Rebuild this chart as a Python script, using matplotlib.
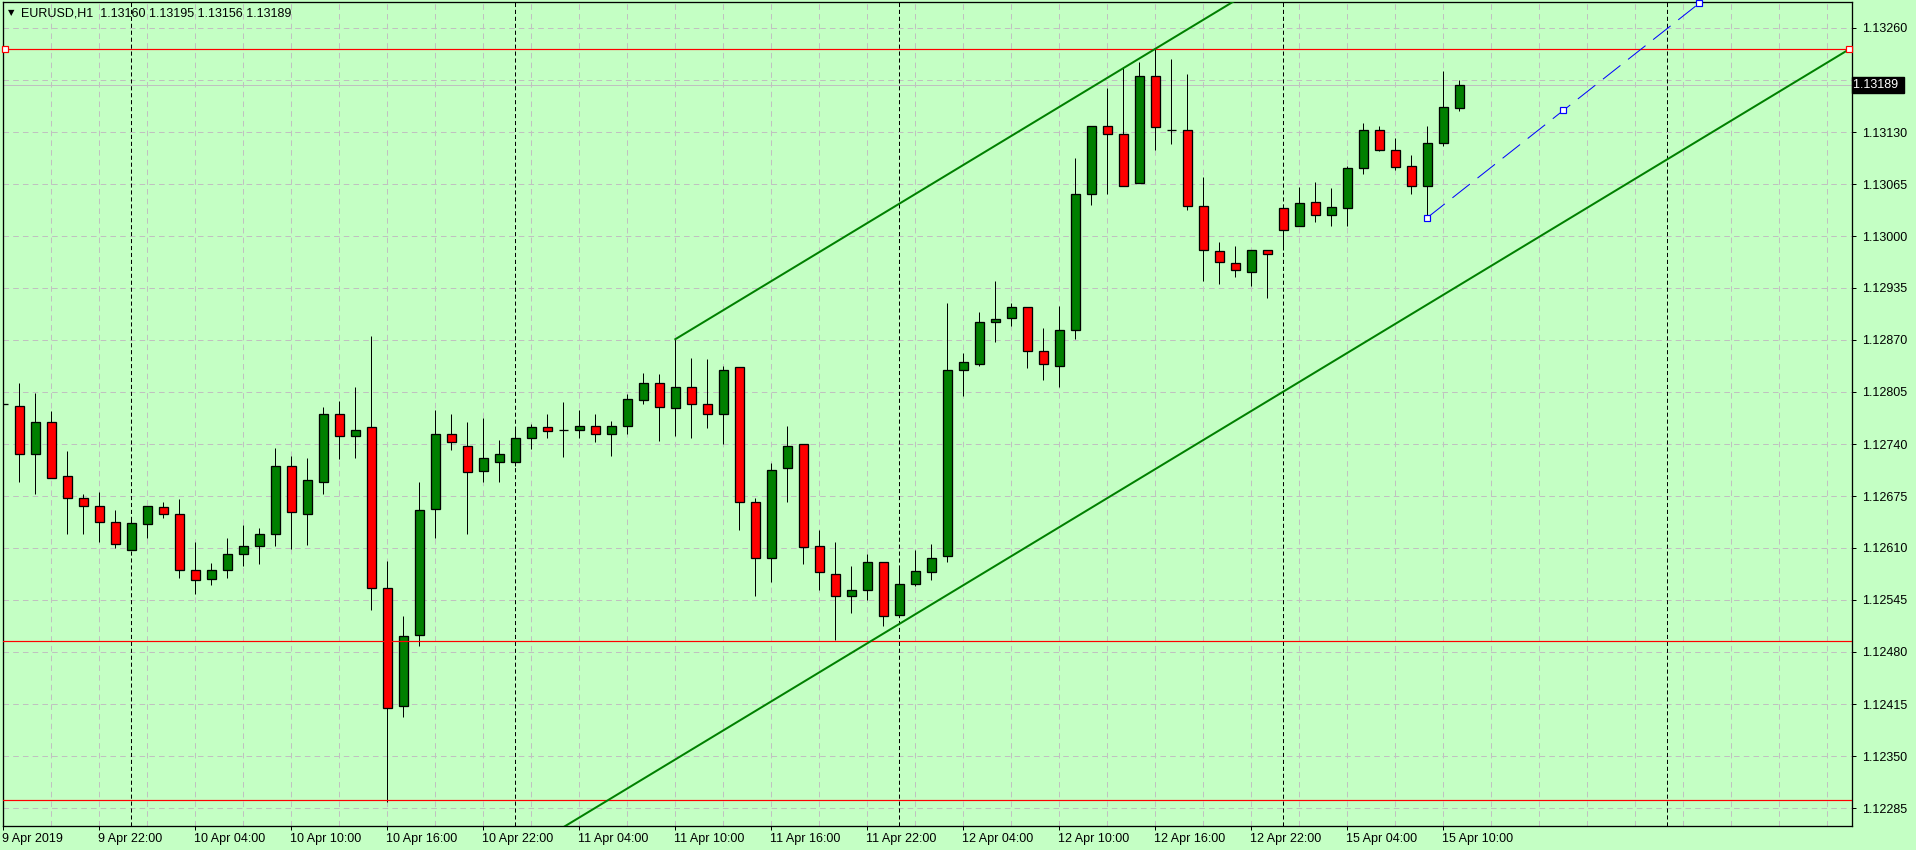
import matplotlib
matplotlib.use("Agg")
import matplotlib.pyplot as plt
import matplotlib.transforms as mtransforms
import numpy as np

# EURUSD H1 bars, index 0 = 9 Apr 16:00
opens = [1.12790, 1.12788, 1.12727, 1.12768, 1.12700, 1.12673, 1.12663, 1.12642, 1.12608, 1.12640,
         1.12661, 1.12653, 1.12582, 1.12571, 1.12583, 1.12603, 1.12612, 1.12628, 1.12713, 1.12653,
         1.12693, 1.12777, 1.12750, 1.12761, 1.12560, 1.12412, 1.12501, 1.12659, 1.12752, 1.12738,
         1.12706, 1.12718, 1.12718, 1.12747, 1.12761, 1.12757, 1.12758, 1.12763, 1.12753, 1.12763,
         1.12795, 1.12816, 1.12785, 1.12811, 1.12790, 1.12777, 1.12836, 1.12668, 1.12598, 1.12710,
         1.12740, 1.12613, 1.12578, 1.12550, 1.12557, 1.12593, 1.12526, 1.12565, 1.12580, 1.12600,
         1.12832, 1.12840, 1.12892, 1.12897, 1.12911, 1.12856, 1.12838, 1.12883, 1.13052, 1.13137,
         1.13127, 1.13066, 1.13200, 1.13133, 1.13132, 1.13037, 1.12981, 1.12966, 1.12955, 1.12983,
         1.13035, 1.13012, 1.13042, 1.13026, 1.13035, 1.13085, 1.13132, 1.13108, 1.13087, 1.13063,
         1.13116, 1.13160]
highs = [1.12841, 1.12816, 1.12804, 1.12781, 1.12731, 1.12677, 1.12680, 1.12658, 1.12647, 1.12663,
         1.12668, 1.12671, 1.12617, 1.12591, 1.12623, 1.12639, 1.12635, 1.12735, 1.12725, 1.12723,
         1.12786, 1.12794, 1.12811, 1.12875, 1.12594, 1.12525, 1.12693, 1.12783, 1.12777, 1.12768,
         1.12773, 1.12745, 1.12760, 1.12765, 1.12777, 1.12793, 1.12783, 1.12777, 1.12769, 1.12803,
         1.12829, 1.12827, 1.12871, 1.12847, 1.12846, 1.12837, 1.12836, 1.12673, 1.12716, 1.12762,
         1.12740, 1.12633, 1.12618, 1.12588, 1.12603, 1.12593, 1.12587, 1.12607, 1.12615, 1.12916,
         1.12854, 1.12905, 1.12944, 1.12916, 1.12911, 1.12885, 1.12913, 1.13098, 1.13138, 1.13185,
         1.13211, 1.13218, 1.13234, 1.13221, 1.13203, 1.13074, 1.12992, 1.12988, 1.12983, 1.12983,
         1.13037, 1.13061, 1.13068, 1.13060, 1.13087, 1.13141, 1.13138, 1.13123, 1.13101, 1.13137,
         1.13206, 1.13195]
lows = [1.12758, 1.12692, 1.12677, 1.12697, 1.12628, 1.12628, 1.12618, 1.12610, 1.12607, 1.12623,
        1.12648, 1.12572, 1.12553, 1.12564, 1.12573, 1.12588, 1.12590, 1.12613, 1.12609, 1.12614,
        1.12677, 1.12721, 1.12723, 1.12532, 1.12293, 1.12399, 1.12488, 1.12622, 1.12733, 1.12627,
        1.12693, 1.12692, 1.12712, 1.12734, 1.12747, 1.12724, 1.12748, 1.12743, 1.12725, 1.12753,
        1.12790, 1.12744, 1.12750, 1.12747, 1.12760, 1.12740, 1.12633, 1.12550, 1.12568, 1.12667,
        1.12590, 1.12558, 1.12495, 1.12529, 1.12545, 1.12513, 1.12525, 1.12562, 1.12570, 1.12592,
        1.12800, 1.12838, 1.12867, 1.12887, 1.12835, 1.12820, 1.12811, 1.12871, 1.13039, 1.13053,
        1.13063, 1.13066, 1.13108, 1.13115, 1.13033, 1.12944, 1.12940, 1.12949, 1.12938, 1.12923,
        1.12982, 1.13012, 1.13018, 1.13013, 1.13013, 1.13078, 1.13106, 1.13083, 1.13053, 1.13023,
        1.13112, 1.13156]
closes = [1.12790, 1.12727, 1.12768, 1.12698, 1.12673, 1.12662, 1.12642, 1.12615, 1.12641, 1.12662,
          1.12652, 1.12583, 1.12570, 1.12583, 1.12603, 1.12612, 1.12628, 1.12713, 1.12655, 1.12695,
          1.12777, 1.12750, 1.12758, 1.12560, 1.12410, 1.12500, 1.12658, 1.12752, 1.12742, 1.12705,
          1.12722, 1.12728, 1.12747, 1.12761, 1.12756, 1.12757, 1.12762, 1.12753, 1.12763, 1.12796,
          1.12816, 1.12786, 1.12811, 1.12790, 1.12777, 1.12833, 1.12667, 1.12597, 1.12708, 1.12738,
          1.12611, 1.12580, 1.12550, 1.12558, 1.12593, 1.12525, 1.12565, 1.12581, 1.12598, 1.12833,
          1.12842, 1.12893, 1.12896, 1.12911, 1.12856, 1.12840, 1.12883, 1.13052, 1.13137, 1.13128,
          1.13063, 1.13200, 1.13136, 1.13133, 1.13038, 1.12982, 1.12967, 1.12958, 1.12983, 1.12977,
          1.13008, 1.13041, 1.13026, 1.13036, 1.13085, 1.13133, 1.13107, 1.13086, 1.13063, 1.13116,
          1.13161, 1.13189]

tick_pos = [0, 6, 12, 18, 24, 30, 36, 42, 48, 54, 60, 66, 72, 78, 84, 90]
tick_labels = ["9 Apr 2019", "9 Apr 22:00", "10 Apr 04:00", "10 Apr 10:00", "10 Apr 16:00",
               "10 Apr 22:00", "11 Apr 04:00", "11 Apr 10:00", "11 Apr 16:00", "11 Apr 22:00",
               "12 Apr 04:00", "12 Apr 10:00", "12 Apr 16:00", "12 Apr 22:00", "15 Apr 04:00",
               "15 Apr 10:00"]
price_ticks = [1.12285, 1.12350, 1.12415, 1.12480, 1.12545, 1.12610, 1.12675, 1.12740,
               1.12805, 1.12870, 1.12935, 1.13000, 1.13065, 1.13130, 1.13195, 1.13260]
day_breaks = [8, 32, 56, 80, 104]
hlines_red = [1.13234, 1.12494, 1.12295]
channel_x = [42, 72]
channel_y = [1.12871, 1.13234]
channel_low_point = (55, 1.12503)
trend_x = [89, 106]
trend_y = [1.13023, 1.13291]
bid = 1.13189

bg = "#C4FFC4"
PX = 72 / 100  # one pixel in points

plt.rcParams["font.family"] = ["Liberation Sans", "DejaVu Sans"]
fig = plt.figure(figsize=(19.16, 8.5), dpi=100, facecolor=bg)
ax = fig.add_axes([2.5 / 1916, 24 / 850, 1849.5 / 1916, 824 / 850], facecolor=bg)

x = np.arange(len(opens))
o, h, l, c = map(np.array, (opens, highs, lows, closes))
up = c >= o

# grid
for p in price_ticks:
    ax.axhline(p, color="#C0C0C0", lw=PX, dashes=(4 / 0.72, 3 / 0.72), zorder=0)
for g in range(3, 116, 3):
    ax.axvline(g, color="#C0C0C0", lw=PX, dashes=(4 / 0.72, 3 / 0.72), zorder=0)
for d in day_breaks:
    ax.axvline(d, color="black", lw=PX, dashes=(3 / 0.72, 2 / 0.72), zorder=1)

# bid line
ax.axhline(bid, color="#C0C0C0", lw=PX, zorder=1)

# candles
ax.vlines(x, l, h, color="black", lw=PX, zorder=2)
ax.bar(x[up], (c - o)[up], bottom=o[up], width=0.58, color="#008000",
       edgecolor="black", linewidth=PX * 1.3, zorder=3)
ax.bar(x[~up], (o - c)[~up], bottom=c[~up], width=0.58, color="#FF0000",
       edgecolor="black", linewidth=PX * 1.3, zorder=3)

# horizontal red lines
for p in hlines_red:
    ax.axhline(p, color="#FF0000", lw=PX * 1.2, zorder=4)
ax.plot([0.13, 115.35], [hlines_red[0]] * 2, ls="none", marker="s", ms=4.5,
        mfc="white", mec="#FF0000", mew=PX * 1.2, zorder=6, clip_on=False)

# equidistant channel
slope = (channel_y[1] - channel_y[0]) / (channel_x[1] - channel_x[0])
xu = np.array([channel_x[0], 130])
ax.plot(xu, channel_y[0] + slope * (xu - channel_x[0]), color="#008000", lw=2 * PX, zorder=5)
xl = np.array([25, 115.45])
ax.plot(xl, channel_low_point[1] + slope * (xl - channel_low_point[0]), color="#008000",
        lw=2 * PX, zorder=5)

# blue trendline
ax.plot(trend_x, trend_y, color="#0000FF", lw=PX, dashes=(16 / 0.72, 7 / 0.72), zorder=5)
ax.plot([trend_x[0], sum(trend_x) / 2, trend_x[1]],
        [trend_y[0], sum(trend_y) / 2, trend_y[1]], ls="none", marker="s", ms=4.5,
        mfc="white", mec="#0000FF", mew=PX * 1.2, zorder=6, clip_on=False)

ax.set_xlim(-0.05, 115.54)
ax.set_ylim(1.122625, 1.132925)

ax.yaxis.tick_right()
ax.set_yticks(price_ticks)
# 1.13195 sits under the current-price box in the terminal
ax.set_yticklabels([f"{p:.5f}" if abs(p - bid) > 0.0001 else "" for p in price_ticks])
ax.set_xticks(tick_pos)
ax.set_xticklabels(tick_labels, ha="left")
ax.tick_params(axis="both", direction="out", length=3, width=PX, color="black",
               labelsize=9, labelcolor="black")
ax.tick_params(axis="y", pad=4)
ax.tick_params(axis="x", pad=2)
offset = mtransforms.ScaledTranslation(-1 / 100, 0, fig.dpi_scale_trans)
for lab in ax.get_xticklabels():
    lab.set_transform(lab.get_transform() + offset)
for s in ax.spines.values():
    s.set_color("black")
    s.set_linewidth(PX * 1.3)

# current price label
tr = mtransforms.blended_transform_factory(ax.transAxes, ax.transData)
ax.text(1.0008, bid, "1.13189 ", transform=tr, color="white", fontsize=9, va="center",
        ha="left", zorder=10, clip_on=False,
        bbox=dict(boxstyle="square,pad=0.15", fc="black", ec="black"))

# header
fig.text(8 / 1916, 1 - 13 / 850, "\u25bc", fontsize=6, va="center", ha="left",
         family="DejaVu Sans")
fig.text(21 / 1916, 1 - 13 / 850, "EURUSD,H1  1.13160 1.13195 1.13156 1.13189",
         fontsize=9, va="center", ha="left")

fig.savefig("out.png", dpi=100, facecolor=bg)
